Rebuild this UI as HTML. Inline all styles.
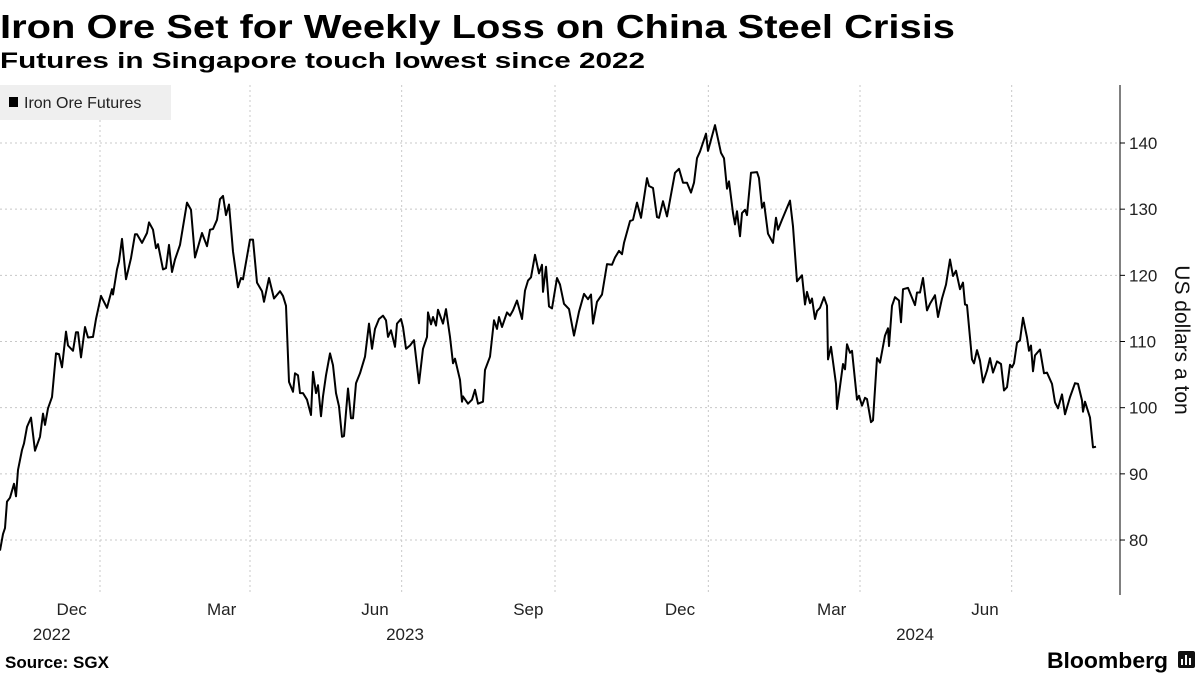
<!DOCTYPE html>
<html><head><meta charset="utf-8"><style>
html,body{margin:0;padding:0;background:#fff;}
svg{display:block;font-family:"Liberation Sans",sans-serif;}
</style></head><body>
<svg id="chart" width="1200" height="675" viewBox="0 0 1200 675" xmlns="http://www.w3.org/2000/svg">
<text x="0" y="38" font-size="33" font-weight="bold" textLength="955" lengthAdjust="spacingAndGlyphs">Iron Ore Set for Weekly Loss on China Steel Crisis</text>
<text x="0" y="68" font-size="22" font-weight="bold" textLength="645" lengthAdjust="spacingAndGlyphs">Futures in Singapore touch lowest since 2022</text>
<g id="grid"></g>
<g id="axes"></g>
<path id="line" fill="none" stroke="#000" stroke-width="2" stroke-linejoin="round"></path>
<g>
<rect x="0" y="85" width="171" height="35" fill="#efefef"/>
<rect x="9" y="97" width="9" height="10" fill="#000"/>
<text x="24" y="108" font-size="16" fill="#222">Iron Ore Futures</text>
</g>
<text transform="translate(1175,340) rotate(90)" text-anchor="middle" font-size="21" fill="#111">US dollars a ton</text>
<text x="5" y="668" font-size="17" font-weight="bold">Source: SGX</text>
<text x="1047" y="668" font-size="22" font-weight="bold" textLength="121" lengthAdjust="spacingAndGlyphs">Bloomberg</text>
<g>
<rect x="1178" y="651" width="17" height="17" rx="2" fill="#111"/>
<rect x="1181" y="659" width="2" height="6" fill="#fff"/><rect x="1185" y="655" width="2" height="10" fill="#fff"/><rect x="1189" y="658" width="2" height="7" fill="#fff"/>
</g>
</svg>
<script>
// Days since 2022-11-02
const days1=[0,1.8,3,4.2,6,8.4,9.6,10.8,13.2,14.4,16.2,18.6,21,24,25.8,27,28.8,31.2,33.6,35.4,37.2,39.6,40.8,43.8,45.6,46.8,48.6,51,52.8,55.8,57.6,60.6,64.2,67.2,67.8,70.2,71.4,73.2,75.6,78.6,81,82.2,85.2,88.2,89.4,91.8,93.6,94.8,97.8,99.6,101.4,103.2,105,108,112.2,114.6,117,121.2,124.2,126,127.8,130.2,132,133.8,135.6,137.4,139.2,139.8,142.8,144.6,145.8,150,151.8,154.2,157.2,158.4,161.4,164.4,168,169.8,171.6];
const vals1=[78.4,80.9,81.8,85.8,86.4,88.5,86.6,90.6,93.6,94.6,97.1,98.5,93.5,95.6,99.1,97.4,99.9,101.6,108.2,108.1,106.1,111.5,109.4,108.6,111.4,111.4,107.6,112.2,110.6,110.7,113.4,116.9,115.1,117.9,117.1,120.9,122.1,125.5,119.4,122.6,126.2,126.2,124.9,126.4,128,126.9,124.1,124.7,120.9,121.1,124.6,120.5,122.4,124.6,131,129.9,122.7,126.4,124.4,126.9,127,128.4,131.5,132,129.1,130.7,125.4,123.6,118.2,119.6,119.4,125.4,125.4,118.9,117.6,116,119.6,116.5,117.6,116.9,115.4];
const days2=[173.4,175.8,177,178.8,180,181.8,184.2,186.6,187.8,189.6,190.8,192.6,193.8,195.6,198,199.8,201.6,203.4,205.2,206.4,208.8,210.6,211.8,213.6,216,219,221.4,223.2,225,227.4,229.8,231.6,232.8,234.6,237,238.2,240.6,241.8,243.6,246,248.4,251.4,253.8,256.2,256.8,258.6,259.8,261.6,262.8,265.8,267.6,270,271.8,273,276,277.2,277.8,280.8,283.2,285,286.8,289.8,291,294,296.4,298.2,299.4,301.2,304.2,306,307.8,310.2,313.2,315,316.8,318.6,321,323.4,325.2,325.8,327.6,329.4,331.2,334.2];
const vals2=[103.9,102.4,105.2,104.9,102.2,102.2,101.2,98.9,105.4,102.2,103.4,98.7,101.7,104.9,108.2,106.4,102.2,100.2,95.6,95.7,102.9,98.4,98.4,103.7,105.2,107.7,112.7,108.9,111.9,113.4,113.9,113.2,110.7,111.7,109.2,112.7,113.4,112.2,108.9,109.4,110.2,103.7,108.9,110.7,114.4,112.6,113.7,112.4,114.8,112.7,114.9,110.7,106.7,107.4,104.2,100.9,101.7,100.6,101.2,102.7,100.6,100.9,105.7,107.7,113.2,111.9,113.7,112.2,114.4,113.9,114.7,116.2,113.4,117.7,119.2,119.7,123.1,120.3,121.6,117.5,121.3,115.3,115,119.6];
const days3=[336,338.4,341.4,344.4,347.4,350.4,352.8,354.6,355.8,358.2,361.2,364.2,367.2,369,371.4,373.2,374.4,378,379.8,382.2,384.6,388.2,389.4,391.8,394.2,395.4,397.8,400.2,405,407.4,409.8,412.2,414.6,416.4,418.2,420,423.6,424.8,429,432.6,434.4,436.2,437.4,439.8,441,442.2,444,445.2,447,448.2,450.6,454.2,455.4,457.2,458.4,460.8,463.8,465.6,466.8,469.2,474,475.8,478.2,481.2,483,484.2,486,487.2,489,490.2];
const vals3=[118.6,115.7,114.9,110.9,114.5,117.2,116.4,117.1,112.7,116,117.1,121.7,121.6,122.7,123.7,123.2,124.9,128.2,128.4,131,128.7,134.7,133.5,133.2,128.8,128.7,131.2,128.9,135.5,136.1,134,134,132.5,134,137.7,138.7,141.4,138.8,142.7,138.5,137.7,133.1,134.2,129.4,127.7,129.7,125.9,129.4,129.9,129.1,135.5,135.6,134.7,130.2,131,126.3,124.9,128.7,126.9,128.4,131.3,127.4,119.1,120,115.6,117.5,115.8,116.5,113.4,114.6];
const days4=[492,494.4,496.2,496.8,498.6,501.6,502.2,505.8,507,508.2,510,511.2,514.2,515.4,517.2,519,520.2,522.6,523.8,526.2,528,531,532.8,533.4,535.2,537,539.4,540.6,541.8,544.8,549,550.2,552,553.8,556.2,558,561,562.8,565.2,567.6,570,571.8,573.6,576,577.8,579,580.2,583.2,584.4,586.2,588,589.8,592.2,594,595.8,598.2,600.6,602.4,604.2,606,607.2,608.4,610.2,612,613.8,616.2,617.4,618.6,619.8,621,624,626.4,628.2,631.2,633,634.8,637.2,639,642,645,646.8,649.2,649.8,651,654,655.8,657.6];
const vals4=[115.1,116.7,115.4,107.3,109.2,103.6,99.8,106.6,105.8,109.6,108.3,108.6,101.2,101.8,100.3,101.5,101.3,97.8,98.1,107.5,106.8,110.9,112,109.3,115.4,116.7,116.2,112.9,117.9,118.1,115.5,117.4,117.4,119.6,114.7,115.7,117,113.7,116.5,118.6,122.4,119.9,120.7,117.9,118.9,115.6,115.5,107.3,106.7,108.7,107.1,103.8,105.6,107.5,105.3,107,106.6,102.6,103.1,106.5,106.1,106.7,109.8,110.2,113.6,110.6,108.6,109.4,105.5,107.9,108.8,105.2,105.3,103.6,100.8,99.9,102,99,101.6,103.7,103.6,101.1,99.4,100.9,98.5,94,94.1];
const yTicks=[80,90,100,110,120,130,140];
const gridDays=[60,150,241,333,425,516,607];
const monthLabels=["Dec","Mar","Jun","Sep","Dec","Mar","Jun"];
const monthDays=[43,133,225,317,408,499,591];
const yearLabels=["2022","2023","2024"];
const yearDays=[31,243,549];

const NS="http://www.w3.org/2000/svg";
const xS=d=>d*1.6667;
const yS=v=>143+(140-v)*6.617;
const grid=document.getElementById('grid'), axes=document.getElementById('axes');
function mk(tag,attrs,parent){const e=document.createElementNS(NS,tag);for(const k in attrs)e.setAttribute(k,attrs[k]);parent.appendChild(e);return e;}
yTicks.forEach(v=>{
  const l=mk('line',{x1:0,x2:1120,y1:yS(v),y2:yS(v),stroke:'#c8c8c8','stroke-dasharray':'2,3','stroke-width':1},grid);
  
  
  const t=mk('text',{x:1129,y:yS(v)+6,'font-size':17,fill:'#222'},axes);
  t.textContent=v;
  
  
  mk('line',{x1:1120,x2:1125,y1:yS(v),y2:yS(v),stroke:'#000'},axes);
});
gridDays.forEach(d=>{
  const l=mk('line',{x1:xS(d),x2:xS(d),y1:85,y2:595,stroke:'#c8c8c8','stroke-dasharray':'2,3','stroke-width':1},grid);
  
  
});
monthLabels.forEach((m,i)=>{
  const t=mk('text',{x:xS(monthDays[i]),y:615,'font-size':17,fill:'#222','text-anchor':'middle'},axes);
  t.textContent=m;
  
  
});
yearLabels.forEach((m,i)=>{
  const t=mk('text',{x:xS(yearDays[i]),y:640,'font-size':17,fill:'#222','text-anchor':'middle'},axes);
  t.textContent=m;
  
  
});
const ax=mk('line',{x1:1120,x2:1120,y1:85,y2:595,stroke:'#000','stroke-width':1},axes);


const days=[].concat(days1,days2,days3,days4), vals=[].concat(vals1,vals2,vals3,vals4);
const n=Math.min(days.length,vals.length);
let d='';
for(let i=0;i<n;i++){d+=(i?'L':'M')+xS(days[i]).toFixed(1)+','+yS(vals[i]).toFixed(1);}
document.getElementById('line').setAttribute('d',d);
</script>
</body></html>
